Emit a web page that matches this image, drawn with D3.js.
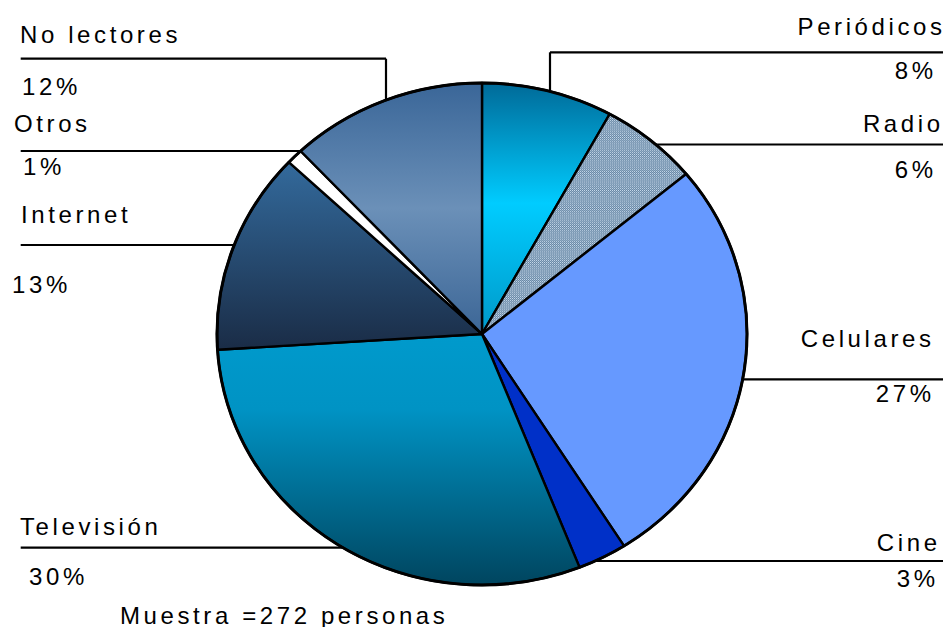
<!DOCTYPE html>
<html>
<head>
<meta charset="utf-8">
<script src="https://cdn.jsdelivr.net/npm/d3@7"></script>
<style>
  html, body { margin: 0; padding: 0; background: #fff; }
  svg { display: block; }
  text { font-family: "Liberation Sans", Arial, sans-serif; font-size: 24px; letter-spacing: 3.6px; fill: #000; }
</style>
</head>
<body>
<svg id="chart" width="945" height="627"></svg>
<script>
// ---- data ----
const categories = ["Periódicos", "Radio", "Celulares", "Cine", "Televisión", "Internet", "Otros", "No lectores"];
const values = [8, 6, 27, 3, 30, 13, 1, 12];
const valueLabels = values.map(v => v + "%");
const note = "Muestra =272 personas";

// ---- layout ----
const W = 945, H = 627;
const cx = 482, cy = 334, rx = 265, ry = 251;
const labelLayout = {
  "No lectores": { anchor: "start", nx: 20, ny: 42.5, vx: 22, vy: 95, ly: 58.7, lx0: 20.7, lx1: 386, vdrop: true },
  "Otros":       { anchor: "start", nx: 14, ny: 132, vx: 23, vy: 175, ly: 151, lx0: 20.7 },
  "Internet":    { anchor: "start", nx: 21, ny: 222.5, vx: 12, vy: 293, ly: 245, lx0: 20.7 },
  "Televisión":  { anchor: "start", nx: 20, ny: 535, vx: 29, vy: 584.5, ly: 547.7, lx0: 20.7 },
  "Periódicos":  { anchor: "end", nx: 942, ny: 35, vx: 933, vy: 79, ly: 52.3, lx0: 943, lx1: 550, vdrop: true },
  "Radio":       { anchor: "end", nx: 940, ny: 132, vx: 933, vy: 178, ly: 144.5, lx0: 943 },
  "Celulares":   { anchor: "end", nx: 931, ny: 347, vx: 931, vy: 401.5, ly: 379.3, lx0: 943 },
  "Cine":        { anchor: "end", nx: 937, ny: 551, vx: 935, vy: 586.5, ly: 561, lx0: 943 }
};
const LS = 3.6;

const svg = d3.select("#chart");
const defs = svg.append("defs");

function vGrad(id, stops) {
  const g = defs.append("linearGradient").attr("id", id)
    .attr("x1", 0).attr("y1", 0).attr("x2", 0).attr("y2", 1);
  stops.forEach(s => g.append("stop").attr("offset", s[0]).attr("stop-color", s[1]));
}
vGrad("gPer", [[0, "#006a98"], [0.48, "#00ccff"], [1, "#0098c8"]]);
vGrad("gTv", [[0, "#009acc"], [0.3, "#0093c4"], [1, "#00455f"]]);
vGrad("gInt", [[0, "#336a9c"], [1, "#1a2c46"]]);
vGrad("gNo", [[0, "#3a6698"], [0.5, "#6b90b8"], [1, "#3c6696"]]);

const pat = defs.append("pattern").attr("id", "pRadio")
  .attr("patternUnits", "userSpaceOnUse").attr("width", 2).attr("height", 2);
pat.append("rect").attr("width", 2).attr("height", 2).attr("fill", "#6887a4");
pat.append("rect").attr("width", 1).attr("height", 1).attr("fill", "#c6d9eb");
pat.append("rect").attr("x", 1).attr("y", 1).attr("width", 1).attr("height", 1).attr("fill", "#98b2ca");

const fills = {
  "Periódicos": "url(#gPer)",
  "Radio": "url(#pRadio)",
  "Celulares": "#6699ff",
  "Cine": "#0030c8",
  "Televisión": "url(#gTv)",
  "Internet": "url(#gInt)",
  "Otros": "#ffffff",
  "No lectores": "url(#gNo)"
};

// ---- leader lines (under the pie) ----
const leaders = svg.append("g").attr("stroke", "#000").attr("stroke-width", 2.2).attr("fill", "none");
categories.forEach(c => {
  const L = labelLayout[c];
  const x1 = L.lx1 !== undefined ? L.lx1 : cx;
  leaders.append("line").attr("x1", L.lx0).attr("x2", x1).attr("y1", L.ly).attr("y2", L.ly);
  if (L.vdrop) {
    leaders.append("line").attr("x1", x1).attr("x2", x1).attr("y1", L.ly).attr("y2", cy - ry + 40);
  }
});

// ---- pie ----
const pie = d3.pie().sort(null).value(d => d.v).startAngle(0).endAngle(2 * Math.PI);
const arcs = pie(categories.map((c, i) => ({ c, v: values[i] })));
const arc = d3.arc().innerRadius(0).outerRadius(rx);

const pg = svg.append("g").attr("transform", `translate(${cx},${cy}) scale(1,${ry / rx})`);
pg.selectAll("path.slice").data(arcs).join("path")
  .attr("class", "slice")
  .attr("d", arc)
  .attr("fill", d => fills[d.data.c])
  .attr("stroke", "#000")
  .attr("stroke-width", 2.4)
  .attr("stroke-linejoin", "round")
  .attr("vector-effect", "non-scaling-stroke");
pg.append("path")
  .attr("d", d3.arc().innerRadius(0).outerRadius(rx)({ startAngle: 0, endAngle: 2 * Math.PI }))
  .attr("fill", "none").attr("stroke", "#000").attr("stroke-width", 3)
  .attr("vector-effect", "non-scaling-stroke");

// ---- labels ----
const tg = svg.append("g");
categories.forEach((c, i) => {
  const L = labelLayout[c];
  const shift = L.anchor === "end" ? LS : 0;
  tg.append("text").attr("x", L.nx + shift).attr("y", L.ny).attr("text-anchor", L.anchor).text(c);
  tg.append("text").attr("x", L.vx + shift).attr("y", L.vy).attr("text-anchor", L.anchor).text(valueLabels[i]);
});
svg.append("text").attr("x", 120).attr("y", 623.5).text(note);
</script>
</body>
</html>
